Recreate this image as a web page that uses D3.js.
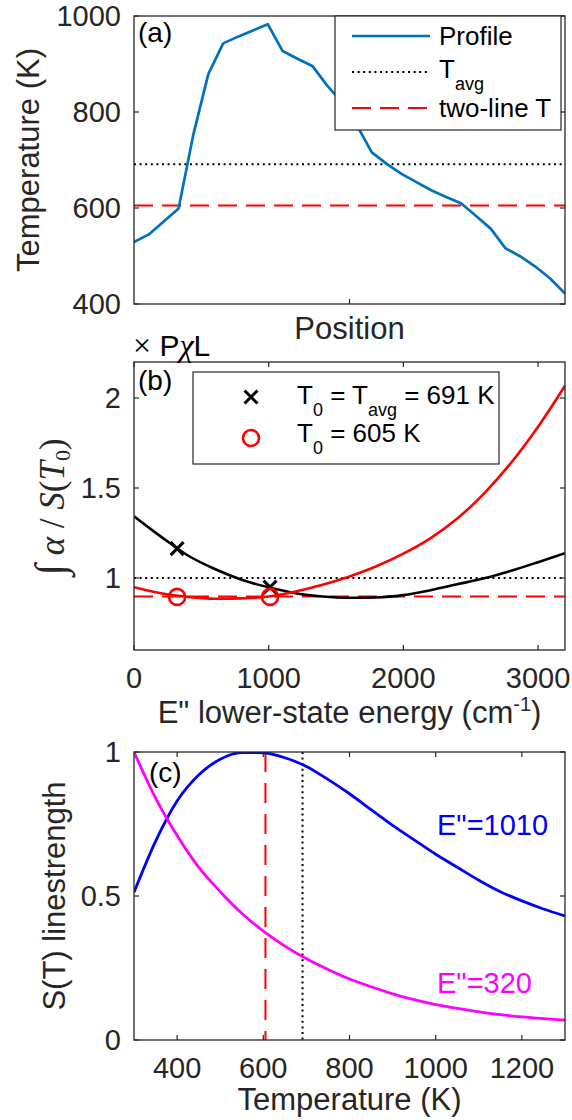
<!DOCTYPE html>
<html><head><meta charset="utf-8">
<script src="https://cdn.jsdelivr.net/npm/d3@7"></script>
<style>
body{margin:0;background:#fff}
text{font-family:"Liberation Sans",Arial,sans-serif}
</style>
</head><body>
<svg id="chart" width="572" height="1120"></svg>
<script>
// ---------- Panel (a) data ----------
const profilePos = [1,2,3,4,5,6,7,8,9,10,11,12,13,14,15,16,17,18,19,20,21,22,23,24,25,26,27,28,29,30];
const profileT = [529,545,572,599,754,879,943,957,970,983,927,911,896,855,820,772,716,692,671,654,637,623,610,584,557,516,499,478,453,422];
const Tavg = 691;
const Ttwo = 605;
const tempTicksA = [400,600,800,1000];

// ---------- Panel (b) data ----------
const energyGrid = [0,200,400,600,800,1000,1200,1400,1600,1800,2000,2200,2400,2600,2800,3000,3200];
const ratioAvg = [1.343,1.23,1.125,1.05,0.99,0.948,0.915,0.897,0.89,0.892,0.905,0.932,0.965,0.998,1.04,1.088,1.138];
const ratio605 = [0.949,0.915,0.895,0.885,0.887,0.897,0.925,0.962,1.008,1.065,1.135,1.22,1.33,1.47,1.64,1.84,2.068];
const markerE = [320,1010];
const markerAvg = [1.163,0.949];
const marker605 = [0.895,0.895];
const ratioRef = 1;
const ratioTwo = 0.897;
const ratioTicks = [1,1.5,2];
const energyTicks = [0,1000,2000,3000];

// ---------- Panel (c) data ----------
const tempGrid = [300,350,400,450,500,550,600,650,700,750,800,850,900,950,1000,1050,1100,1150,1200,1250,1300];
const S1010 = [0.513,0.69,0.83,0.92,0.975,0.998,0.997,0.98,0.95,0.905,0.855,0.8,0.745,0.695,0.645,0.6,0.555,0.515,0.483,0.455,0.431];
const S320 = [1.0,0.84,0.71,0.60,0.515,0.44,0.378,0.326,0.282,0.245,0.212,0.185,0.16,0.14,0.123,0.11,0.098,0.088,0.08,0.074,0.069];
const sTicks = [0,0.5,1];
const tTicksC = [400,600,800,1000,1200];

// ---------- layout ----------
const svg = d3.select("#chart");
const AX = "#262626";
const L = 134, R = 565;
const TICK_FS = 29, TITLE_FS = 31, LEG_FS = 26;

function frame(g, x, y, xt, yt, top, bottom, xLabels) {
  const tl = 5;
  xt.forEach(v => {
    const px = x(v);
    g.append("line").attr("x1",px).attr("x2",px).attr("y1",bottom).attr("y2",bottom-tl).attr("stroke",AX).attr("stroke-width",1.2);
    g.append("line").attr("x1",px).attr("x2",px).attr("y1",top).attr("y2",top+tl).attr("stroke",AX).attr("stroke-width",1.2);
    if (xLabels) g.append("text").attr("x",px).attr("y",bottom+28).attr("dy","0.35em")
      .attr("text-anchor","middle").attr("font-size",TICK_FS).attr("fill",AX).text(v);
  });
  yt.forEach(v => {
    const py = y(v);
    g.append("line").attr("x1",L).attr("x2",L+tl).attr("y1",py).attr("y2",py).attr("stroke",AX).attr("stroke-width",1.2);
    g.append("line").attr("x1",R).attr("x2",R-tl).attr("y1",py).attr("y2",py).attr("stroke",AX).attr("stroke-width",1.2);
    g.append("text").attr("x",L-13).attr("y",py).attr("dy","0.35em")
      .attr("text-anchor","end").attr("font-size",TICK_FS).attr("fill",AX).text(v);
  });
  g.append("rect").attr("x",L).attr("y",top).attr("width",R-L).attr("height",bottom-top)
    .attr("fill","none").attr("stroke",AX).attr("stroke-width",1.3);
}

function clip(id, top, bottom) {
  svg.append("clipPath").attr("id",id).append("rect")
    .attr("x",L).attr("y",top).attr("width",R-L).attr("height",bottom-top);
}

// ================= Panel (a) =================
{
  const top = 16, bottom = 304;
  const x = d3.scaleLinear().domain([1,30]).range([L,R]);
  const y = d3.scaleLinear().domain([400,1000]).range([bottom,top]);
  const g = svg.append("g");
  clip("ca", top, bottom);
  const pg = g.append("g").attr("clip-path","url(#ca)");
  pg.append("line").attr("x1",L).attr("x2",R).attr("y1",y(Tavg)).attr("y2",y(Tavg))
    .attr("stroke","#000").attr("stroke-width",2).attr("stroke-dasharray","2,3.6");
  pg.append("line").attr("x1",L).attr("x2",R).attr("y1",y(Ttwo)).attr("y2",y(Ttwo))
    .attr("stroke","#ff0000").attr("stroke-width",2).attr("stroke-dasharray","19,9");
  pg.append("path").datum(profileT).attr("fill","none").attr("stroke","#0072BD").attr("stroke-width",2.7)
    .attr("stroke-linejoin","round")
    .attr("d", d3.line().x((d,i)=>x(profilePos[i])).y(d=>y(d)));
  frame(g, x, y, [15.5], tempTicksA, top, bottom, false);
  g.append("text").attr("x",(L+R)/2).attr("y",339).attr("text-anchor","middle")
    .attr("font-size",TITLE_FS).attr("fill",AX).text("Position");
  g.append("text").attr("transform","translate(39,160) rotate(-90)").attr("text-anchor","middle")
    .attr("font-size",TITLE_FS).attr("fill",AX).text("Temperature (K)");
  g.append("text").attr("x",138).attr("y",32).attr("dy","0.35em").attr("font-size",28).attr("fill","#000").text("(a)");
  const lg = g.append("g");
  lg.append("rect").attr("x",335).attr("y",16).attr("width",226).attr("height",114)
    .attr("fill","#fff").attr("stroke",AX).attr("stroke-width",1.2);
  lg.append("line").attr("x1",352).attr("x2",430).attr("y1",36).attr("y2",36).attr("stroke","#0072BD").attr("stroke-width",2.7);
  lg.append("text").attr("x",439).attr("y",36).attr("dy","0.35em").attr("font-size",LEG_FS).text("Profile");
  lg.append("line").attr("x1",352).attr("x2",430).attr("y1",72).attr("y2",72).attr("stroke","#000").attr("stroke-width",2).attr("stroke-dasharray","2,3.6");
  const t2 = lg.append("text").attr("x",439).attr("y",78).attr("font-size",LEG_FS);
  t2.append("tspan").text("T");
  t2.append("tspan").attr("dy",12).attr("font-size",18).text("avg");
  lg.append("line").attr("x1",352).attr("x2",430).attr("y1",108).attr("y2",108).attr("stroke","#ff0000").attr("stroke-width",2).attr("stroke-dasharray","19,9");
  lg.append("text").attr("x",439).attr("y",108).attr("dy","0.35em").attr("font-size",LEG_FS).text("two-line T");
}

// ================= Panel (b) =================
{
  const top = 362, bottom = 650;
  const x = d3.scaleLinear().domain([0,3200]).range([L,R]);
  const y = d3.scaleLinear().domain([0.6,2.2]).range([bottom,top]);
  const g = svg.append("g");
  clip("cb", top, bottom);
  const pg = g.append("g").attr("clip-path","url(#cb)");
  pg.append("line").attr("x1",L).attr("x2",R).attr("y1",y(ratioRef)).attr("y2",y(ratioRef))
    .attr("stroke","#000").attr("stroke-width",2).attr("stroke-dasharray","2,3.6");
  pg.append("line").attr("x1",L).attr("x2",R).attr("y1",y(ratioTwo)).attr("y2",y(ratioTwo))
    .attr("stroke","#ff0000").attr("stroke-width",2).attr("stroke-dasharray","19,9");
  const line = d3.line().curve(d3.curveMonotoneX).x((d,i)=>x(energyGrid[i])).y(d=>y(d));
  pg.append("path").datum(ratioAvg).attr("fill","none").attr("stroke","#000").attr("stroke-width",2.6).attr("d",line);
  pg.append("path").datum(ratio605).attr("fill","none").attr("stroke","#ff0000").attr("stroke-width",2.6).attr("d",line);
  const s = 6.5;
  markerE.forEach((e,i) => {
    const px = x(e), py = y(markerAvg[i]);
    g.append("path").attr("d",`M${px-s},${py-s}L${px+s},${py+s}M${px-s},${py+s}L${px+s},${py-s}`)
      .attr("stroke","#000").attr("stroke-width",3);
    g.append("circle").attr("cx",x(e)).attr("cy",y(marker605[i])).attr("r",8)
      .attr("fill","none").attr("stroke","#ff0000").attr("stroke-width",2.6);
  });
  frame(g, x, y, energyTicks, ratioTicks, top, bottom, true);
  const xt = g.append("text").attr("x",(L+R)/2).attr("y",723).attr("text-anchor","middle")
    .attr("font-size",TITLE_FS).attr("fill",AX);
  xt.append("tspan").text("E\" lower-state energy (cm");
  xt.append("tspan").attr("dy",-12).attr("font-size",20).text("-1");
  xt.append("tspan").attr("dy",12).text(")");
  // y label (TeX style)
  const yl = g.append("text").attr("transform","translate(64,507) rotate(-90)").attr("text-anchor","middle")
    .attr("font-size",35).attr("fill",AX).style("font-family","'Liberation Serif','Times New Roman',serif");
  yl.append("tspan").attr("font-size",42).attr("font-style","italic").text("∫");
  yl.append("tspan").attr("font-style","italic").text(" α");
  yl.append("tspan").text(" / ");
  yl.append("tspan").attr("font-style","italic").text("S");
  yl.append("tspan").text("(");
  yl.append("tspan").attr("font-style","italic").text("T");
  yl.append("tspan").attr("dy",6).attr("font-size",22).text("0");
  yl.append("tspan").attr("dy",-6).text(")");
  // multiplier label
  const ml = g.append("text").attr("x",133).attr("y",356).attr("font-size",30).attr("fill","#000");
  ml.append("tspan").style("font-family","'Liberation Serif',serif").attr("font-size",32).text("×");
  ml.append("tspan").text("  P");
  ml.append("tspan").style("font-family","'Liberation Serif',serif").attr("font-style","italic").attr("font-size",32).text("χ");
  ml.append("tspan").text("L");
  g.append("text").attr("x",138).attr("y",380).attr("dy","0.35em").attr("font-size",28).attr("fill","#000").text("(b)");
  // legend
  const lg = g.append("g");
  lg.append("rect").attr("x",193).attr("y",372).attr("width",306).attr("height",92)
    .attr("fill","#fff").attr("stroke",AX).attr("stroke-width",1.2);
  lg.append("path").attr("d",`M${251-s},${397-s}L${251+s},${397+s}M${251-s},${397+s}L${251+s},${397-s}`)
    .attr("stroke","#000").attr("stroke-width",3);
  lg.append("circle").attr("cx",251).attr("cy",438).attr("r",8).attr("fill","none").attr("stroke","#ff0000").attr("stroke-width",2.6);
  const r1 = lg.append("text").attr("x",297).attr("y",404).attr("font-size",LEG_FS);
  r1.append("tspan").text("T");
  r1.append("tspan").attr("dy",12).attr("font-size",18).text("0");
  r1.append("tspan").attr("dy",-12).text(" = T");
  r1.append("tspan").attr("dy",12).attr("font-size",18).text("avg");
  r1.append("tspan").attr("dy",-12).text(" = 691 K");
  const r2 = lg.append("text").attr("x",297).attr("y",442).attr("font-size",LEG_FS);
  r2.append("tspan").text("T");
  r2.append("tspan").attr("dy",12).attr("font-size",18).text("0");
  r2.append("tspan").attr("dy",-12).text(" = 605 K");
}

// ================= Panel (c) =================
{
  const top = 752, bottom = 1040;
  const x = d3.scaleLinear().domain([300,1300]).range([L,R]);
  const y = d3.scaleLinear().domain([0,1]).range([bottom,top]);
  const g = svg.append("g");
  clip("cc", top, bottom);
  const pg = g.append("g").attr("clip-path","url(#cc)");
  pg.append("line").attr("x1",x(Ttwo)).attr("x2",x(Ttwo)).attr("y1",top).attr("y2",bottom)
    .attr("stroke","#ff0000").attr("stroke-width",2).attr("stroke-dasharray","20,11");
  pg.append("line").attr("x1",x(Tavg)).attr("x2",x(Tavg)).attr("y1",top).attr("y2",bottom)
    .attr("stroke","#000").attr("stroke-width",2).attr("stroke-dasharray","2,3.6");
  const line = d3.line().curve(d3.curveMonotoneX).x((d,i)=>x(tempGrid[i])).y(d=>y(d));
  pg.append("path").datum(S1010).attr("fill","none").attr("stroke","#0000ff").attr("stroke-width",2.8).attr("d",line);
  pg.append("path").datum(S320).attr("fill","none").attr("stroke","#ff00ff").attr("stroke-width",2.8).attr("d",line);
  frame(g, x, y, tTicksC, sTicks, top, bottom, true);
  g.append("text").attr("x",(L+R)/2).attr("y",1110).attr("text-anchor","middle")
    .attr("font-size",TITLE_FS).attr("fill",AX).text("Temperature (K)");
  g.append("text").attr("transform","translate(65,896) rotate(-90)").attr("text-anchor","middle")
    .attr("font-size",TITLE_FS).attr("fill",AX).text("S(T) linestrength");
  g.append("text").attr("x",149).attr("y",772).attr("dy","0.35em").attr("font-size",28).attr("fill","#000").text("(c)");
  g.append("text").attr("x",437).attr("y",825).attr("dy","0.35em").attr("font-size",TICK_FS).attr("fill","#0000ff").text("E\"=1010");
  g.append("text").attr("x",437).attr("y",983).attr("dy","0.35em").attr("font-size",TICK_FS).attr("fill","#ff00ff").text("E\"=320");
}
</script>
</body></html>
